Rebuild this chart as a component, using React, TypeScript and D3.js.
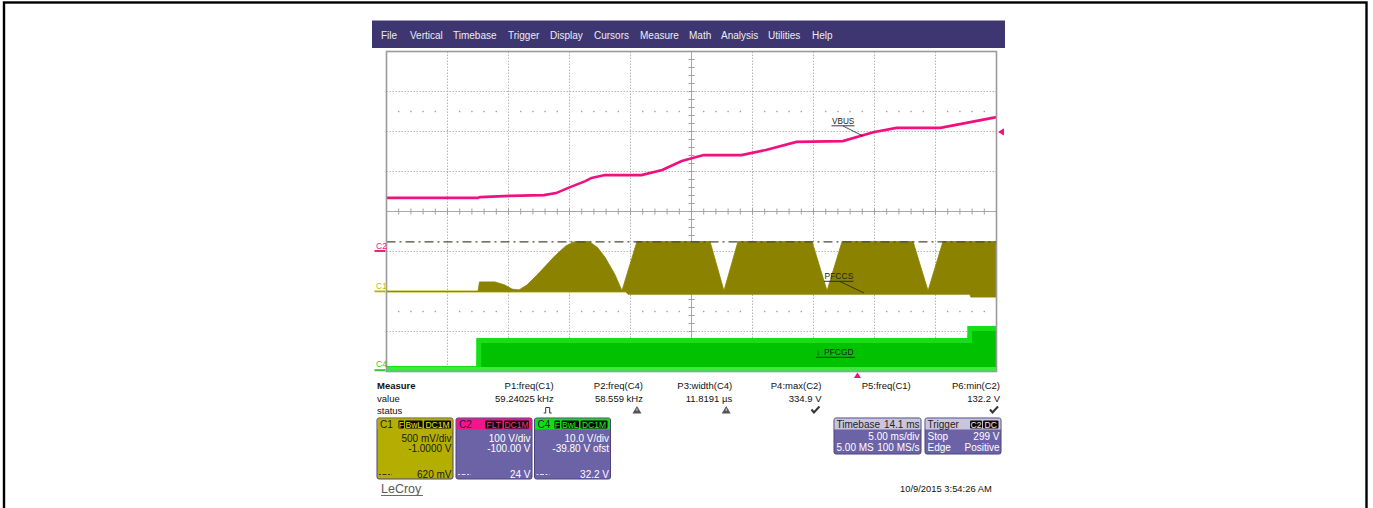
import React from 'react';
import * as d3 from 'd3';

// ---------- data ----------
const menuItems = ['File', 'Vertical', 'Timebase', 'Trigger', 'Display', 'Cursors', 'Measure', 'Math', 'Analysis', 'Utilities', 'Help'];
const menuLayoutX = [381, 410, 453, 508, 550, 594, 640, 689, 721, 768, 812];

// C2 : VBUS (volts) vs time (ms, 0..50 across the screen)
const vbusTime = [0, 7.5, 7.66, 10.1, 12.9, 13.9, 14.9, 16.3, 16.8, 17.9, 20.9, 22.6, 24.2, 26.0, 29.1, 31.1, 33.6, 37.4, 39.9, 41.8, 45.4, 50];
const vbusVolt = [134, 134, 136, 139, 141, 146, 159, 176, 184, 191, 191, 204, 226, 241, 241, 254, 274, 276, 298, 309, 309, 336];

// C1 : PFCCS envelope (volts)
const pfccsTime = [0, 7.5, 7.62, 8.89, 9.71, 10.29, 10.86, 11.5, 12.3, 13.1, 13.9, 14.7, 15.45, 16.6, 17.3, 17.9, 18.7, 19.3, 20.53, 26.52, 27.66, 28.81, 34.88, 36.11, 37.34, 43.16, 44.39, 45.61, 50];
const pfccsHigh = [0, 0, 0.12, 0.12, 0.08, 0.03, 0.02, 0.08, 0.2, 0.33, 0.46, 0.57, 0.625, 0.625, 0.55, 0.43, 0.22, 0.01, 0.625, 0.625, 0.01, 0.625, 0.625, 0.01, 0.625, 0.625, 0.01, 0.625, 0.625];
const pfccsLowTime = [0, 19.6, 19.8, 47.8, 47.9, 50];
const pfccsLow = [0, 0, -0.035, -0.035, -0.07, -0.07];

// C4 : PFCGD envelope (volts)
const pfcgdTime = [0, 7.55, 7.56, 47.8, 47.81, 50];
const pfcgdHigh = [1.2, 1.2, 8.2, 8.2, 11.2, 11.2];

// C1 level line / trigger
const c1Level = 0.62;
const triggerLevel = 299;
const triggerTime = 38.6;

// measurements
const measureNames = ['P1:freq(C1)', 'P2:freq(C4)', 'P3:width(C4)', 'P4:max(C2)', 'P5:freq(C1)', 'P6:min(C2)'];
const measureValues = ['59.24025 kHz', '58.559 kHz', '11.8191 µs', '334.9 V', '', '132.2 V'];
const measureStatus = ['pulse', 'warn', 'warn', 'ok', '', 'ok'];

const FONT = "'Liberation Sans', Arial, sans-serif";

export default function App() {
  const x = d3.scaleLinear().domain([0, 50]).range([386.5, 996.5]);
  const chScale = (vdiv: number, offset: number) =>
    d3.scaleLinear().domain([-4 * vdiv - offset, 4 * vdiv - offset]).range([371.5, 51.5]);
  const yC2 = chScale(100, -100);
  const yC1 = chScale(0.5, -1);
  const yC4 = chScale(10, -39.8);
  const gx = d3.scaleLinear().domain([0, 10]).range([386.5, 996.5]);
  const gy = d3.scaleLinear().domain([0, 8]).range([371.5, 51.5]);

  const vbusLine = d3.line<number>().x((d, i) => x(vbusTime[i])).y((d) => yC2(d))(vbusVolt) || '';

  const upperPts: [number, number][] = pfccsTime.map((t, i) => [x(t), yC1(pfccsHigh[i])]);
  const lowerPts: [number, number][] = pfccsLowTime.map((t, i) => [x(t), yC1(pfccsLow[i])]).reverse() as [number, number][];
  const pfccsPoly = d3.line()([...upperPts, ...lowerPts]) + 'Z';

  const pfcgdArea = d3.area<number>()
    .x((d, i) => x(pfcgdTime[i]))
    .y0(() => yC4(-0.2))
    .y1((d) => yC4(d))(pfcgdHigh) || '';
  const pfcgdTop = d3.line<number>()
    .x((d, i) => x(pfcgdTime[i]))
    .y((d) => yC4(d) + 2.5)(pfcgdHigh) || '';

  const gridV = d3.range(1, 10).filter((i) => i !== 5);
  const gridH = d3.range(1, 8).filter((i) => i !== 4);
  const ticksX = d3.range(0, 50.01, 1).map((i) => gx(i / 5));
  const ticksY = d3.range(0, 40.01, 1).map((i) => gy(i / 5));
  const dotsX = d3.range(1, 50).filter((i) => i % 5 !== 0).map((i) => gx(i / 5));

  const colRight = (i: number) => 553.7 + i * 89.26;

  const Badge = ({ x0, w, y0, text, color }: any) => (
    <g>
      <rect x={x0} y={y0} width={w} height={8} rx={1} fill="#0a0a0a" />
      <text x={x0 + w / 2} y={y0 + 7} fontSize={8.5} textAnchor="middle" fill={color} fontFamily={FONT}>{text}</text>
    </g>
  );

  const purple = '#6c63a6';
  const chBox = (bx: number, headColor: string, bodyColor: string, label: string, badges: any[], lines: string[], bottom: string, textColor: string, badgeColor: string) => (
    <g>
      <rect x={bx} y={418} width={76} height={61} rx={2} fill={bodyColor} stroke="#4b447e" strokeWidth={1} />
      <rect x={bx + 0.5} y={418.5} width={75} height={11} fill={headColor} />
      <text x={bx + 3} y={427.5} fontSize={10} fill={label === 'C1' ? '#1a1a1a' : '#2a1a40'} fontFamily={FONT}>{label}</text>
      {badges.map((b, i) => <Badge key={i} x0={b[0]} w={b[1]} y0={420.5} text={b[2]} color={badgeColor} />)}
      <text x={bx + 74.5} y={441.5} fontSize={10} textAnchor="end" fill={textColor} fontFamily={FONT}>{lines[0]}</text>
      <text x={bx + 74.5} y={452} fontSize={10} textAnchor="end" fill={textColor} fontFamily={FONT}>{lines[1]}</text>
      <line x1={bx + 2} x2={bx + 15} y1={474.5} y2={474.5} stroke={textColor} strokeDasharray="2,1.5,4,1.5" strokeWidth={1} opacity={0.8} />
      <text x={bx + 74.5} y={477.5} fontSize={10} textAnchor="end" fill={textColor} fontFamily={FONT}>{bottom}</text>
    </g>
  );

  const statusIcon = (kind: string, cx: number) => {
    if (kind === 'pulse') return <path d={`M${cx - 4},413 h2 v-5.5 h4 v5.5 h2`} fill="none" stroke="#333" strokeWidth={1} />;
    if (kind === 'warn') return (
      <g>
        <path d={`M${cx},406 L${cx + 4.5},413.5 L${cx - 4.5},413.5 Z`} fill="#555" />
        <line x1={cx} x2={cx} y1={408.5} y2={411} stroke="#ddd" strokeWidth={1} />
      </g>
    );
    if (kind === 'ok') return <path d={`M${cx - 4},409.5 L${cx - 1.5},412.5 L${cx + 4},406.5`} fill="none" stroke="#333" strokeWidth={2} />;
    return null;
  };

  return (
    <svg width={1373} height={508} style={{ position: 'absolute', left: 0, top: 0, background: '#fff' }} fontFamily={FONT}>
      <rect x={0} y={0} width={1373} height={508} fill="#fff" />
      <rect x={4} y={2.5} width={1362.5} height={520} fill="none" stroke="#000" strokeWidth={2.4} />

      {/* menu bar */}
      <rect x={372} y={20.5} width={633} height={27.5} fill="#3e3670" />
      {menuItems.map((m, i) => <text key={m} x={menuLayoutX[i]} y={38.5} fontSize={10} fill="#ececf4">{m}</text>)}

      {/* grid */}
      <g>
        {gridV.map((i) => <line key={'v' + i} x1={gx(i)} x2={gx(i)} y1={51.5} y2={371.5} stroke="#b4b4b4" strokeWidth={1} strokeDasharray="1.5,1.5" />)}
        {gridH.map((i) => <line key={'h' + i} x1={386.5} x2={996.5} y1={gy(i)} y2={gy(i)} stroke="#b4b4b4" strokeWidth={1} strokeDasharray="1.5,1.5" />)}
        {dotsX.map((dx, i) => <rect key={'d1' + i} x={dx - 0.7} y={gy(6.5) - 0.7} width={1.4} height={1.4} fill="#a0a0a0" />)}
        {dotsX.map((dx, i) => <rect key={'d2' + i} x={dx - 0.7} y={gy(1.5) - 0.7} width={1.4} height={1.4} fill="#a0a0a0" />)}
        <line x1={386.5} x2={996.5} y1={gy(4)} y2={gy(4)} stroke="#a8a8a8" strokeWidth={1} />
        <line x1={gx(5)} x2={gx(5)} y1={51.5} y2={371.5} stroke="#a8a8a8" strokeWidth={1} />
        {ticksX.map((tx, i) => <line key={'tx' + i} x1={tx} x2={tx} y1={gy(4) - 3} y2={gy(4) + 3} stroke="#a0a0a0" strokeWidth={1} />)}
        {ticksY.map((ty, i) => <line key={'ty' + i} x1={gx(5) - 3} x2={gx(5) + 3} y1={ty} y2={ty} stroke="#a0a0a0" strokeWidth={1} />)}
      </g>

      <defs>
        <clipPath id="plotClip"><rect x={386.5} y={51.5} width={610} height={320.5} /></clipPath>
      </defs>

      <g clipPath="url(#plotClip)">
        {/* C4 */}
        <path d={pfcgdArea} fill="#00c200" />
        <path d={pfcgdTop} fill="none" stroke="#17df17" strokeWidth={5} />
        <line x1={x(0)} x2={x(50)} y1={yC4(0.4)} y2={yC4(0.4)} stroke="#35ee35" strokeWidth={4} />
        {/* C1 */}
        <line x1={x(0)} x2={x(50)} y1={yC1(0)} y2={yC1(0)} stroke="#b8b300" strokeWidth={2} />
        <path d={pfccsPoly} fill="#8b8300" stroke="#8b8300" strokeWidth={0.8} />
        <line x1={386.5} x2={996.5} y1={yC1(c1Level)} y2={yC1(c1Level)} stroke="#4a4a3a" strokeWidth={1.2} strokeDasharray="9,4,2,4" />
        {/* C2 */}
        <path d={vbusLine} fill="none" stroke="#f2107f" strokeWidth={2.6} />
      </g>

      {/* plot frame */}
      <rect x={386.5} y={51.5} width={610} height={320} fill="none" stroke="#9a9a9a" strokeWidth={1.6} />

      {/* markers */}
      <path d={`M998,${yC2(triggerLevel)} l6,-3.6 v7.2 Z`} fill="#f2107f" />
      <path d={`M${x(triggerTime)},372.5 l3.5,5.5 h-7 Z`} fill="#f2107f" />

      {/* channel labels */}
      <text x={376} y={yC2(0) - 3} fontSize={8.5} fill="#f0207f">C2</text>
      <rect x={374.5} y={yC2(0) - 1.5} width={11} height={2} fill="#f0207f" />
      <text x={376} y={yC1(0) - 3} fontSize={8.5} fill="#c4bd00">C1</text>
      <rect x={374.5} y={yC1(0) - 1} width={11} height={1.8} fill="#b8b300" />
      <text x={376} y={yC4(0) - 3.5} fontSize={8.5} fill="#30c830">C4</text>
      <rect x={374.5} y={yC4(0) - 1.5} width={11} height={2} fill="#30c830" />

      {/* annotations */}
      <text x={832} y={123.5} fontSize={8.2} fill="#222">VBUS</text>
      <line x1={831.5} x2={854.5} y1={125.8} y2={125.8} stroke="#222" strokeWidth={0.9} />
      <line x1={843} x2={863} y1={126} y2={136} stroke="#222" strokeWidth={0.8} />
      <text x={824.5} y={279} fontSize={8.5} fill="#222">PFCCS</text>
      <line x1={824} x2={853.5} y1={281.3} y2={281.3} stroke="#222" strokeWidth={0.9} />
      <line x1={840} x2={864} y1={281.5} y2={293} stroke="#222" strokeWidth={0.8} />
      <text x={816} y={355} fontSize={8.5} fill="#222">↓</text>
      <text x={824} y={355} fontSize={8.5} fill="#222">PFCGD</text>
      <line x1={816} x2={855} y1={357.3} y2={357.3} stroke="#222" strokeWidth={0.9} />

      {/* measure table */}
      <text x={377} y={389} fontSize={9.5} fontWeight="bold" fill="#111">Measure</text>
      <text x={377} y={402} fontSize={9.5} fill="#111">value</text>
      <text x={377} y={414} fontSize={9.5} fill="#111">status</text>
      {measureNames.map((n, i) => <text key={n} x={colRight(i)} y={389} fontSize={9.5} textAnchor="end" fill="#111">{n}</text>)}
      {measureValues.map((v, i) => <text key={'v' + i} x={colRight(i)} y={402} fontSize={9.5} textAnchor="end" fill="#111">{v}</text>)}
      {measureStatus.map((s, i) => <g key={'s' + i}>{statusIcon(s, colRight(i) - 6)}</g>)}

      {/* channel boxes */}
      {chBox(377, '#b4ae00', '#b4ae00', 'C1', [[398.5, 5.5, 'F'], [405, 17.5, 'BwL'], [424, 27, 'DC1M']], ['500 mV/div', '-1.0000 V'], '620 mV', '#1a1a1a', '#e8e400')}
      {chBox(456, '#f4158a', purple, 'C2', [[485, 17.5, 'FLT'], [504, 25, 'DC1M']], ['100 V/div', '-100.00 V'], '24 V', '#ffffff', '#ff2a90')}
      {chBox(534.5, '#10e010', purple, 'C4', [[554.5, 5.5, 'F'], [561.5, 17.5, 'BwL'], [580.5, 27, 'DC1M']], ['10.0 V/div', '-39.80 V ofst'], '32.2 V', '#ffffff', '#20f020')}

      {/* timebase box */}
      <rect x={834} y={418} width={87} height={36} rx={2} fill={purple} stroke="#4b447e" />
      <rect x={834.5} y={418.5} width={86} height={11} fill="#c9c5dd" />
      <text x={836.5} y={427.5} fontSize={10} fill="#222">Timebase</text>
      <text x={919.5} y={427.5} fontSize={10} textAnchor="end" fill="#222">14.1 ms</text>
      <text x={919.5} y={440} fontSize={10} textAnchor="end" fill="#fff">5.00 ms/div</text>
      <text x={836.5} y={451} fontSize={10} fill="#fff">5.00 MS</text>
      <text x={919.5} y={451} fontSize={10} textAnchor="end" fill="#fff">100 MS/s</text>

      {/* trigger box */}
      <rect x={925} y={418} width={76} height={36} rx={2} fill={purple} stroke="#4b447e" />
      <rect x={925.5} y={418.5} width={75} height={11} fill="#c9c5dd" />
      <text x={927.5} y={427.5} fontSize={10} fill="#222">Trigger</text>
      <Badge x0={970} w={12} y0={420.5} text="C2" color="#eee" />
      <Badge x0={983} w={15.5} y0={420.5} text="DC" color="#eee" />
      <text x={927.5} y={440} fontSize={10} fill="#fff">Stop</text>
      <text x={999.5} y={440} fontSize={10} textAnchor="end" fill="#fff">299 V</text>
      <text x={927.5} y={451} fontSize={10} fill="#fff">Edge</text>
      <text x={999.5} y={451} fontSize={10} textAnchor="end" fill="#fff">Positive</text>

      {/* footer */}
      <text x={381} y={492.5} fontSize={12.5} fill="#5a5a5a">LeCroy</text>
      <line x1={381} x2={423} y1={495.5} y2={495.5} stroke="#6a6a6a" strokeWidth={1} />
      <text x={900} y={491.5} fontSize={9.4} fill="#111">10/9/2015 3:54:26 AM</text>
    </svg>
  );
}
